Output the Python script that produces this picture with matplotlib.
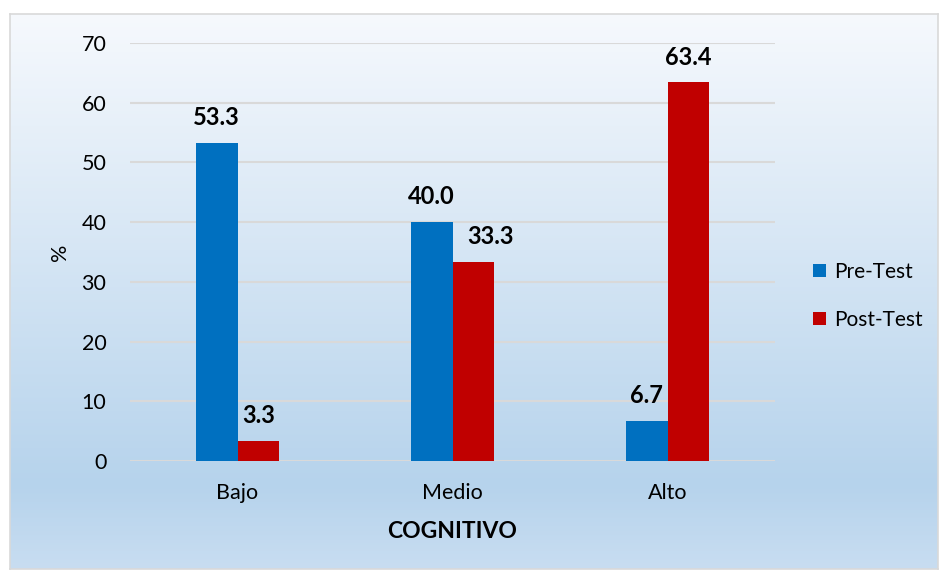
import numpy as np
import matplotlib
matplotlib.use('Agg')
import matplotlib.pyplot as plt
from matplotlib.colors import LinearSegmentedColormap

categories = ['Bajo', 'Medio', 'Alto']
pre_test = [53.3, 40.0, 6.7]
post_test = [3.3, 33.3, 63.4]
series_names = ['Pre-Test', 'Post-Test']
y_ticks = [0, 10, 20, 30, 40, 50, 60, 70]


def main():
	plt.rcParams['font.family'] = ['Lato', 'DejaVu Sans']
	fig = plt.figure(figsize=(9.4, 5.71), dpi=100)
	fig.patch.set_facecolor('white')

	# fondo con degradado
	bg = fig.add_axes([10 / 940, 1 - 569 / 571, 928 / 940, 555 / 571], zorder=0)
	cmap = LinearSegmentedColormap.from_list(
		'bg', [(0, '#f6f9fd'), (0.85, '#b6d3ec'), (1.0, '#c8ddf1')])
	grad = np.linspace(0, 1, 256).reshape(-1, 1)
	bg.imshow(grad, aspect='auto', cmap=cmap, extent=[0, 1, 0, 1], origin='upper')
	bg.set_xticks([])
	bg.set_yticks([])
	for s in bg.spines.values():
		s.set_color('#d9d9d9')
		s.set_linewidth(1.2)

	ax = fig.add_axes([130 / 940, 1 - 461 / 571, 645 / 940, 418 / 571], zorder=1)
	ax.patch.set_alpha(0)
	x = np.arange(len(categories))
	w = 0.195
	b1 = ax.bar(x - w / 2, pre_test, w, color='#0070c0', label=series_names[0], zorder=3)
	b2 = ax.bar(x + w / 2, post_test, w, color='#c00000', label=series_names[1], zorder=3)
	for bars, other in ((b1, None), (b2, b1)):
		for i, r in enumerate(bars):
			h = r.get_height()
			dx = 0
			# correr la etiqueta si choca con la de la barra vecina
			if other is not None and abs(other[i].get_height() - h) < 8:
				dx = 12
			ax.annotate('%.1f' % h, (r.get_x() + r.get_width() / 2, h),
						xytext=(dx, 10), textcoords='offset points', ha='center', va='bottom',
						fontsize=17, fontweight='bold', color='black')

	ax.set_xlim(-0.5, 2.5)
	ax.set_ylim(0, 70)
	ax.set_yticks(y_ticks)
	ax.set_xticks(x)
	ax.set_xticklabels(categories)
	ax.tick_params(length=0, labelsize=15.5, colors='black')
	ax.tick_params(axis='y', pad=17)
	ax.tick_params(axis='x', pad=16)
	ax.grid(axis='y', color='#d9d9d9', linewidth=1.5, zorder=0)
	for s in ax.spines.values():
		s.set_visible(False)
	ax.set_ylabel('%', fontsize=15.5, labelpad=8)
	ax.set_xlabel('COGNITIVO', fontsize=16.5, fontweight='bold', labelpad=13)

	ax.legend(loc='center left', bbox_to_anchor=(1.03, 0.395), frameon=False,
			  fontsize=15, handlelength=0.6, handleheight=0.6, handletextpad=0.4,
			  labelspacing=1.35)

	plt.savefig('out.png', dpi=100)


if __name__ == '__main__':
	main()
